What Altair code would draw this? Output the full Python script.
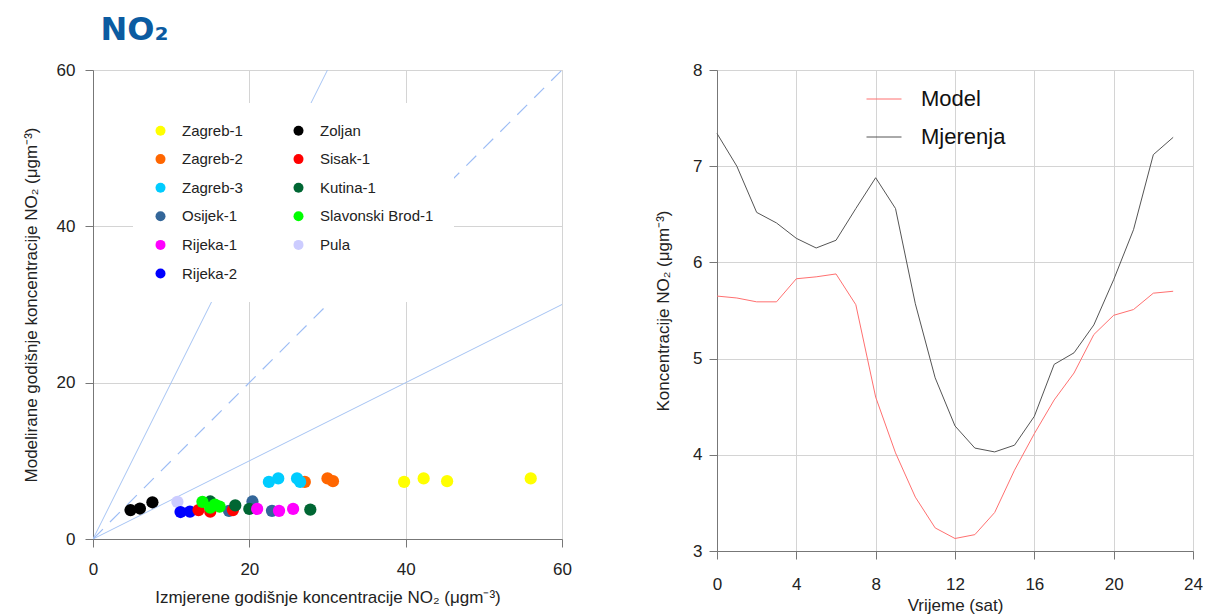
import altair as alt
import pandas as pd

# ---------------- scatter data (left panel) ----------------
station_names = ["Zagreb-1", "Zagreb-2", "Zagreb-3", "Osijek-1", "Rijeka-1", "Rijeka-2",
                 "Zoljan", "Sisak-1", "Kutina-1", "Slavonski Brod-1", "Pula"]
station_colors = ["#ffff00", "#ff6600", "#00ccff", "#336699", "#ff00ff", "#0000ff",
                  "#000000", "#ff0000", "#006633", "#00ff00", "#ccccff"]

zagreb1_x = [39.8, 42.3, 45.3, 56.0]
zagreb1_y = [7.3, 7.75, 7.4, 7.75]
zagreb2_x = [27.1, 30.0, 30.7]
zagreb2_y = [7.3, 7.75, 7.4]
zagreb3_x = [22.5, 23.7, 26.1, 26.5]
zagreb3_y = [7.3, 7.75, 7.75, 7.3]
osijek1_x = [17.4, 20.4, 22.9]
osijek1_y = [3.6, 4.8, 3.6]
rijeka1_x = [21.0, 23.8, 25.6]
rijeka1_y = [3.85, 3.6, 3.85]
rijeka2_x = [11.2, 12.4]
rijeka2_y = [3.45, 3.5]
zoljan_x = [4.8, 6.0, 7.6]
zoljan_y = [3.7, 3.9, 4.7]
sisak1_x = [13.5, 15.0, 17.9]
sisak1_y = [3.7, 3.5, 3.7]
kutina1_x = [15.0, 18.2, 20.0, 27.8]
kutina1_y = [4.8, 4.3, 3.85, 3.75]
slavonski_x = [14.0, 15.0, 16.2, 15.6]
slavonski_y = [4.75, 4.0, 4.15, 4.4]
pula_x = [10.8]
pula_y = [4.75]

draw_order = [
    ("Pula", pula_x, pula_y),
    ("Zoljan", zoljan_x, zoljan_y),
    ("Rijeka-2", rijeka2_x, rijeka2_y),
    ("Osijek-1", osijek1_x, osijek1_y),
    ("Sisak-1", sisak1_x, sisak1_y),
    ("Kutina-1", kutina1_x, kutina1_y),
    ("Slavonski Brod-1", slavonski_x, slavonski_y),
    ("Rijeka-1", rijeka1_x, rijeka1_y),
    ("Zagreb-2", zagreb2_x, zagreb2_y),
    ("Zagreb-3", zagreb3_x, zagreb3_y),
    ("Zagreb-1", zagreb1_x, zagreb1_y),
]
rows = []
i = 0
for name, xs, ys in draw_order:
    for xv, yv in zip(xs, ys):
        rows.append({"station": name, "measured": xv, "modelled": yv, "order": i})
        i += 1
scatter_df = pd.DataFrame(rows)

# reference lines (ratio 1:1 dashed, 2:1 and 1:2 solid)
ref_kind = ["2:1", "2:1", "1:2", "1:2", "1:1", "1:1"]
ref_x = [0, 30, 0, 60, 0, 60]
ref_y = [0, 60, 0, 30, 0, 60]
ref_df = pd.DataFrame({"kind": ref_kind, "rx": ref_x, "ry": ref_y})

# ---------------- diurnal data (right panel) ----------------
hours = list(range(24))
model_vals = [5.65, 5.63, 5.59, 5.59, 5.83, 5.85, 5.88, 5.56, 4.60, 4.02, 3.56, 3.24,
              3.13, 3.17, 3.40, 3.84, 4.22, 4.57, 4.85, 5.25, 5.45, 5.51, 5.68, 5.70]
measured_vals = [7.34, 7.00, 6.52, 6.41, 6.25, 6.15, 6.23, 6.56, 6.88, 6.56, 5.57, 4.80,
                 4.30, 4.07, 4.03, 4.10, 4.40, 4.94, 5.06, 5.35, 5.82, 6.34, 7.12, 7.30]
series_names = ["Model", "Mjerenja"]
series_colors = ["#ff7070", "#555555"]

line_df = pd.DataFrame({
    "hour": hours * 2,
    "value": model_vals + measured_vals,
    "series": ["Model"] * 24 + ["Mjerenja"] * 24,
})

FONT = "Liberation Sans"
AX_COMMON = dict(labelFontSize=17, titleFontSize=17, labelColor="#222", titleColor="#222",
                 titleFontWeight="normal", domainColor="#777", tickColor="#777",
                 tickSize=8, gridColor="#d4d4d4", labelFont=FONT, titleFont=FONT,
                 labelFlush=False, labelOverlap=False)

xs_left = alt.Scale(domain=[0, 60], nice=False)
ys_left = alt.Scale(domain=[0, 60], nice=False)

solid_lines = alt.Chart(ref_df).transform_filter(alt.datum.kind != "1:1").mark_line(
    color="#a6c4f4", strokeWidth=1, clip=True
).encode(
    x=alt.X("rx:Q", scale=xs_left,
            axis=alt.Axis(values=[0, 20, 40, 60], title="Izmjerene godišnje koncentracije NO₂ (μgm⁻³)",
                          labelPadding=14, titlePadding=12, **AX_COMMON)),
    y=alt.Y("ry:Q", scale=ys_left,
            axis=alt.Axis(values=[0, 20, 40, 60], title="Modelirane godišnje koncentracije NO₂ (μgm⁻³)",
                          labelPadding=10, titlePadding=16, **AX_COMMON)),
    detail="kind:N",
)
dashed_line = alt.Chart(ref_df).transform_filter(alt.datum.kind == "1:1").mark_line(
    color="#9dbdf5", strokeWidth=1.2, strokeDash=[14, 10], clip=True
).encode(x="rx:Q", y="ry:Q")

points = alt.Chart(scatter_df).mark_circle(size=150, opacity=1).encode(
    x="measured:Q",
    y="modelled:Q",
    order="order:Q",
    color=alt.Color("station:N",
                    scale=alt.Scale(domain=station_names, range=station_colors),
                    legend=alt.Legend(orient="none", legendX=40, legendY=33, title=None,
                                      columns=2, columnPadding=48, rowPadding=12.6,
                                      fillColor="white", padding=20, zindex=1,
                                      symbolType="circle", symbolSize=100, symbolStrokeWidth=0,
                                      symbolOpacity=1, labelFontSize=15, labelFont=FONT,
                                      labelColor="#222", labelOffset=14)),
)

left = alt.layer(solid_lines, dashed_line, points).properties(width=469, height=469)

right = alt.Chart(line_df).mark_line(strokeWidth=1).encode(
    x=alt.X("hour:Q", scale=alt.Scale(domain=[0, 24], nice=False),
            axis=alt.Axis(values=[0, 4, 8, 12, 16, 20, 24], title="Vrijeme (sat)",
                          labelPadding=17, titlePadding=5, **AX_COMMON)),
    y=alt.Y("value:Q", scale=alt.Scale(domain=[3, 8], nice=False),
            axis=alt.Axis(values=[3, 4, 5, 6, 7, 8], title="Koncentracije NO₂ (μgm⁻³)",
                          labelPadding=7, titlePadding=20, **AX_COMMON)),
    color=alt.Color("series:N", scale=alt.Scale(domain=series_names, range=series_colors),
                    legend=alt.Legend(orient="none", legendX=149, legendY=11, title=None,
                                      symbolType="stroke", symbolSize=1225, symbolStrokeWidth=1,
                                      labelFontSize=22, labelFont=FONT, labelColor="#111",
                                      labelOffset=19, rowPadding=9, padding=0)),
).properties(width=476, height=481)

chart = alt.hconcat(left, right, spacing=82).resolve_scale(color="independent").resolve_legend(
    color="independent"
).properties(
    title=alt.TitleParams("NO₂", anchor="start", dx=79, fontSize=32, font="DejaVu Sans",
                          fontWeight="bold", color="#0b5ba1", offset=14),
    padding={"left": 13, "top": 5, "right": 0, "bottom": 0},
).configure_view(stroke="#cfcfcf")

chart.save("out.html", embed_options={"renderer": "svg", "actions": False})
